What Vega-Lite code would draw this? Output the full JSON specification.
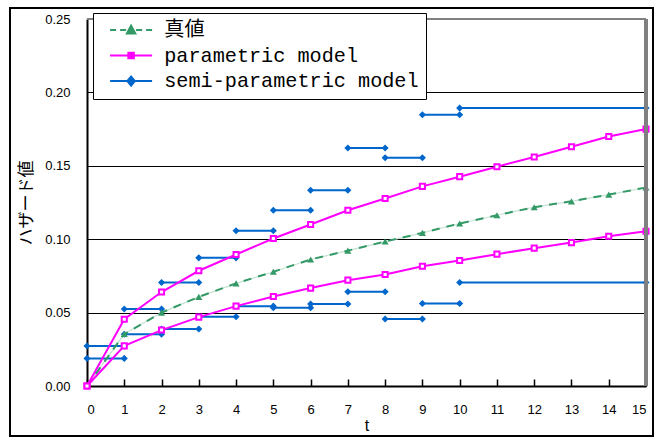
{
  "$schema": "https://vega.github.io/schema/vega-lite/v6.json",
  "width": 643,
  "height": 428,
  "autosize": "none",
  "padding": {"left": 10, "top": 8, "right": 10, "bottom": 3},
  "background": "white",
  "config": {
    "view": {"stroke": "black", "strokeWidth": 2},
    "font": "Liberation Sans"
  },
  "data": {
    "values": [
      {"series": "真値", "curve": "g", "t": 0, "h": 0},
      {"series": "真値", "curve": "g", "t": 1, "h": 0.0354},
      {"series": "真値", "curve": "g", "t": 2, "h": 0.0500},
      {"series": "真値", "curve": "g", "t": 3, "h": 0.0607},
      {"series": "真値", "curve": "g", "t": 4, "h": 0.0699},
      {"series": "真値", "curve": "g", "t": 5, "h": 0.0778},
      {"series": "真値", "curve": "g", "t": 6, "h": 0.0862},
      {"series": "真値", "curve": "g", "t": 7, "h": 0.0922},
      {"series": "真値", "curve": "g", "t": 8, "h": 0.0984},
      {"series": "真値", "curve": "g", "t": 9, "h": 0.1043},
      {"series": "真値", "curve": "g", "t": 10, "h": 0.1107},
      {"series": "真値", "curve": "g", "t": 11, "h": 0.1163},
      {"series": "真値", "curve": "g", "t": 12, "h": 0.1218},
      {"series": "真値", "curve": "g", "t": 13, "h": 0.1258},
      {"series": "真値", "curve": "g", "t": 14, "h": 0.1304},
      {"series": "真値", "curve": "g", "t": 15, "h": 0.1352},

      {"series": "parametric model", "curve": "pu", "t": 0, "h": 0},
      {"series": "parametric model", "curve": "pu", "t": 1, "h": 0.0455},
      {"series": "parametric model", "curve": "pu", "t": 2, "h": 0.0640},
      {"series": "parametric model", "curve": "pu", "t": 3, "h": 0.0785},
      {"series": "parametric model", "curve": "pu", "t": 4, "h": 0.0896},
      {"series": "parametric model", "curve": "pu", "t": 5, "h": 0.1005},
      {"series": "parametric model", "curve": "pu", "t": 6, "h": 0.1100},
      {"series": "parametric model", "curve": "pu", "t": 7, "h": 0.1197},
      {"series": "parametric model", "curve": "pu", "t": 8, "h": 0.1277},
      {"series": "parametric model", "curve": "pu", "t": 9, "h": 0.1360},
      {"series": "parametric model", "curve": "pu", "t": 10, "h": 0.1426},
      {"series": "parametric model", "curve": "pu", "t": 11, "h": 0.1494},
      {"series": "parametric model", "curve": "pu", "t": 12, "h": 0.1560},
      {"series": "parametric model", "curve": "pu", "t": 13, "h": 0.1630},
      {"series": "parametric model", "curve": "pu", "t": 14, "h": 0.1700},
      {"series": "parametric model", "curve": "pu", "t": 15, "h": 0.1750},

      {"series": "parametric model", "curve": "pl", "t": 0, "h": 0},
      {"series": "parametric model", "curve": "pl", "t": 1, "h": 0.0273},
      {"series": "parametric model", "curve": "pl", "t": 2, "h": 0.0381},
      {"series": "parametric model", "curve": "pl", "t": 3, "h": 0.0469},
      {"series": "parametric model", "curve": "pl", "t": 4, "h": 0.0544},
      {"series": "parametric model", "curve": "pl", "t": 5, "h": 0.0610},
      {"series": "parametric model", "curve": "pl", "t": 6, "h": 0.0667},
      {"series": "parametric model", "curve": "pl", "t": 7, "h": 0.0721},
      {"series": "parametric model", "curve": "pl", "t": 8, "h": 0.0760},
      {"series": "parametric model", "curve": "pl", "t": 9, "h": 0.0816},
      {"series": "parametric model", "curve": "pl", "t": 10, "h": 0.0855},
      {"series": "parametric model", "curve": "pl", "t": 11, "h": 0.0898},
      {"series": "parametric model", "curve": "pl", "t": 12, "h": 0.0939},
      {"series": "parametric model", "curve": "pl", "t": 13, "h": 0.0977},
      {"series": "parametric model", "curve": "pl", "t": 14, "h": 0.1020},
      {"series": "parametric model", "curve": "pl", "t": 15, "h": 0.1054},

      {"series": "semi-parametric model", "curve": "u0", "t": 0, "h": 0.0272},
      {"series": "semi-parametric model", "curve": "u0", "t": 1, "h": 0.0272},
      {"series": "semi-parametric model", "curve": "u1", "t": 1, "h": 0.0524},
      {"series": "semi-parametric model", "curve": "u1", "t": 2, "h": 0.0524},
      {"series": "semi-parametric model", "curve": "u2", "t": 2, "h": 0.0705},
      {"series": "semi-parametric model", "curve": "u2", "t": 3, "h": 0.0705},
      {"series": "semi-parametric model", "curve": "u3", "t": 3, "h": 0.0873},
      {"series": "semi-parametric model", "curve": "u3", "t": 4, "h": 0.0873},
      {"series": "semi-parametric model", "curve": "u4", "t": 4, "h": 0.1057},
      {"series": "semi-parametric model", "curve": "u4", "t": 5, "h": 0.1057},
      {"series": "semi-parametric model", "curve": "u5", "t": 5, "h": 0.1197},
      {"series": "semi-parametric model", "curve": "u5", "t": 6, "h": 0.1197},
      {"series": "semi-parametric model", "curve": "u6", "t": 6, "h": 0.1333},
      {"series": "semi-parametric model", "curve": "u6", "t": 7, "h": 0.1333},
      {"series": "semi-parametric model", "curve": "u7", "t": 7, "h": 0.1621},
      {"series": "semi-parametric model", "curve": "u7", "t": 8, "h": 0.1621},
      {"series": "semi-parametric model", "curve": "u8", "t": 8, "h": 0.1555},
      {"series": "semi-parametric model", "curve": "u8", "t": 9, "h": 0.1555},
      {"series": "semi-parametric model", "curve": "u9", "t": 9, "h": 0.1848},
      {"series": "semi-parametric model", "curve": "u9", "t": 10, "h": 0.1848},
      {"series": "semi-parametric model", "curve": "u10", "t": 10, "h": 0.1893},
      {"series": "semi-parametric model", "curve": "u10", "t": 15, "h": 0.1893},

      {"series": "semi-parametric model", "curve": "l0", "t": 0, "h": 0.0188},
      {"series": "semi-parametric model", "curve": "l0", "t": 1, "h": 0.0188},
      {"series": "semi-parametric model", "curve": "l1", "t": 1, "h": 0.0352},
      {"series": "semi-parametric model", "curve": "l1", "t": 2, "h": 0.0352},
      {"series": "semi-parametric model", "curve": "l2", "t": 2, "h": 0.0388},
      {"series": "semi-parametric model", "curve": "l2", "t": 3, "h": 0.0388},
      {"series": "semi-parametric model", "curve": "l3", "t": 3, "h": 0.0472},
      {"series": "semi-parametric model", "curve": "l3", "t": 4, "h": 0.0472},
      {"series": "semi-parametric model", "curve": "l4", "t": 4, "h": 0.0544},
      {"series": "semi-parametric model", "curve": "l4", "t": 5, "h": 0.0544},
      {"series": "semi-parametric model", "curve": "l5", "t": 5, "h": 0.0533},
      {"series": "semi-parametric model", "curve": "l5", "t": 6, "h": 0.0533},
      {"series": "semi-parametric model", "curve": "l6", "t": 6, "h": 0.0558},
      {"series": "semi-parametric model", "curve": "l6", "t": 7, "h": 0.0558},
      {"series": "semi-parametric model", "curve": "l7", "t": 7, "h": 0.0642},
      {"series": "semi-parametric model", "curve": "l7", "t": 8, "h": 0.0642},
      {"series": "semi-parametric model", "curve": "l8", "t": 8, "h": 0.0456},
      {"series": "semi-parametric model", "curve": "l8", "t": 9, "h": 0.0456},
      {"series": "semi-parametric model", "curve": "l9", "t": 9, "h": 0.0562},
      {"series": "semi-parametric model", "curve": "l9", "t": 10, "h": 0.0562},
      {"series": "semi-parametric model", "curve": "l10", "t": 10, "h": 0.0705},
      {"series": "semi-parametric model", "curve": "l10", "t": 15, "h": 0.0705}
    ]
  },
  "encoding": {
    "x": {
      "field": "t", "type": "quantitative",
      "scale": {"domain": [0, 15], "range": [77, 636], "nice": false, "zero": false},
      "axis": {
        "orient": "bottom", "offset": -50, "values": [0,1,2,3,4,5,6,7,8,9,10,11,12,13,14,15],
        "grid": false, "domainColor": "black", "domainWidth": 2,
        "tickColor": "black", "tickWidth": 1.5, "tickSize": -7,
        "labelFontSize": 13, "labelColor": "black", "labelPadding": 24, "labelFont": "Liberation Sans",
        "title": "t", "titleFontSize": 16, "titleFont": "Liberation Sans", "titleFontWeight": "normal", "titleColor": "black", "titlePadding": 1
      }
    },
    "y": {
      "field": "h", "type": "quantitative",
      "scale": {"domain": [0, 0.25], "range": [378, 11], "nice": false},
      "axis": {
        "orient": "left", "offset": -77, "values": [0, 0.05, 0.1, 0.15, 0.2, 0.25], "format": ".2f",
        "grid": true, "gridColor": "black", "gridWidth": 1.2, "gridOpacity": 1,
        "domainColor": "black", "domainWidth": 2, "ticks": false,
        "labelFontSize": 13, "labelColor": "black", "labelPadding": 17, "labelFont": "Liberation Sans",
        "title": "ハザード値", "titleFont": "Noto Sans CJK JP", "titleFontSize": 17, "titleFontWeight": "normal", "titleColor": "black", "titlePadding": 9
      }
    }
  },
  "layer": [
    {
      "transform": [{"filter": "datum.series === 'semi-parametric model'"}],
      "mark": {"type": "line", "color": "#0066cc", "strokeWidth": 2},
      "encoding": {"detail": {"field": "curve"}}
    },
    {
      "transform": [{"filter": "datum.series === 'semi-parametric model'"}],
      "mark": {"type": "point", "shape": "diamond", "filled": true, "color": "#0066cc", "size": 50, "opacity": 1}
    },
    {
      "transform": [{"filter": "datum.series === '真値'"}],
      "mark": {"type": "line", "color": "#c4e3d2", "strokeWidth": 1.2}
    },
    {
      "transform": [{"filter": "datum.series === '真値'"}],
      "mark": {"type": "line", "color": "#339966", "strokeWidth": 2, "strokeDash": [8, 7]}
    },
    {
      "transform": [{"filter": "datum.series === '真値'"}],
      "mark": {"type": "point", "shape": "triangle-up", "filled": true, "color": "#339966", "size": 50, "opacity": 1}
    },
    {
      "transform": [{"filter": "datum.series === 'parametric model'"}],
      "mark": {"type": "line", "color": "#ff00ff", "strokeWidth": 2},
      "encoding": {"detail": {"field": "curve"}}
    },
    {
      "transform": [{"filter": "datum.series === 'parametric model'"}],
      "mark": {"type": "point", "shape": "square", "filled": true, "fill": "#ffffff", "stroke": "#ff00ff", "strokeWidth": 2, "size": 26, "opacity": 1}
    },
    {
      "mark": {"type": "rule", "color": "#808080", "strokeWidth": 2},
      "encoding": {"x": {"datum": 0}, "x2": {"datum": 15}, "y": {"datum": 0.25}}
    },
    {
      "mark": {"type": "rule", "color": "#808080", "strokeWidth": 3},
      "encoding": {"x": {"datum": 15}, "y": {"datum": 0}, "y2": {"datum": 0.25}}
    },
    {
      "transform": [{"filter": "false"}],
      "mark": {"type": "point", "filled": true, "opacity": 1},
      "encoding": {
        "fill": {
          "field": "series", "type": "nominal",
          "scale": {"domain": ["真値", "parametric model", "semi-parametric model"], "range": ["#339966", "#ff00ff", "#0066cc"]},
          "legend": {
            "orient": "none", "legendX": 83, "legendY": 5, "title": null,
            "strokeColor": "black", "fillColor": "white", "padding": 7,
            "symbolSize": 100, "symbolStrokeWidth": 2, "labelOffset": 44, "labelLimit": 500,
            "labelFont": "Liberation Mono, Noto Sans CJK JP", "labelFontSize": 20.2, "labelColor": "black",
            "rowPadding": 4.5
          }
        },
        "stroke": {
          "field": "series", "type": "nominal",
          "scale": {"domain": ["真値", "parametric model", "semi-parametric model"], "range": ["#339966", "#ff00ff", "#0066cc"]}
        },
        "shape": {
          "field": "series", "type": "nominal",
          "scale": {
            "domain": ["真値", "parametric model", "semi-parametric model"],
            "range": [
              "M0,0H1.2M2,0H3.2M5.2,0H6.4M7.2,0H8.4M4.2,-0.9L5.05,0.7L3.35,0.7Z",
              "M0,0H8.4M3.65,-0.55H4.75V0.55H3.65Z",
              "M0,0H8.4M4.2,-0.9L4.95,0L4.2,0.9L3.45,0Z"
            ]
          }
        }
      }
    }
  ]
}
